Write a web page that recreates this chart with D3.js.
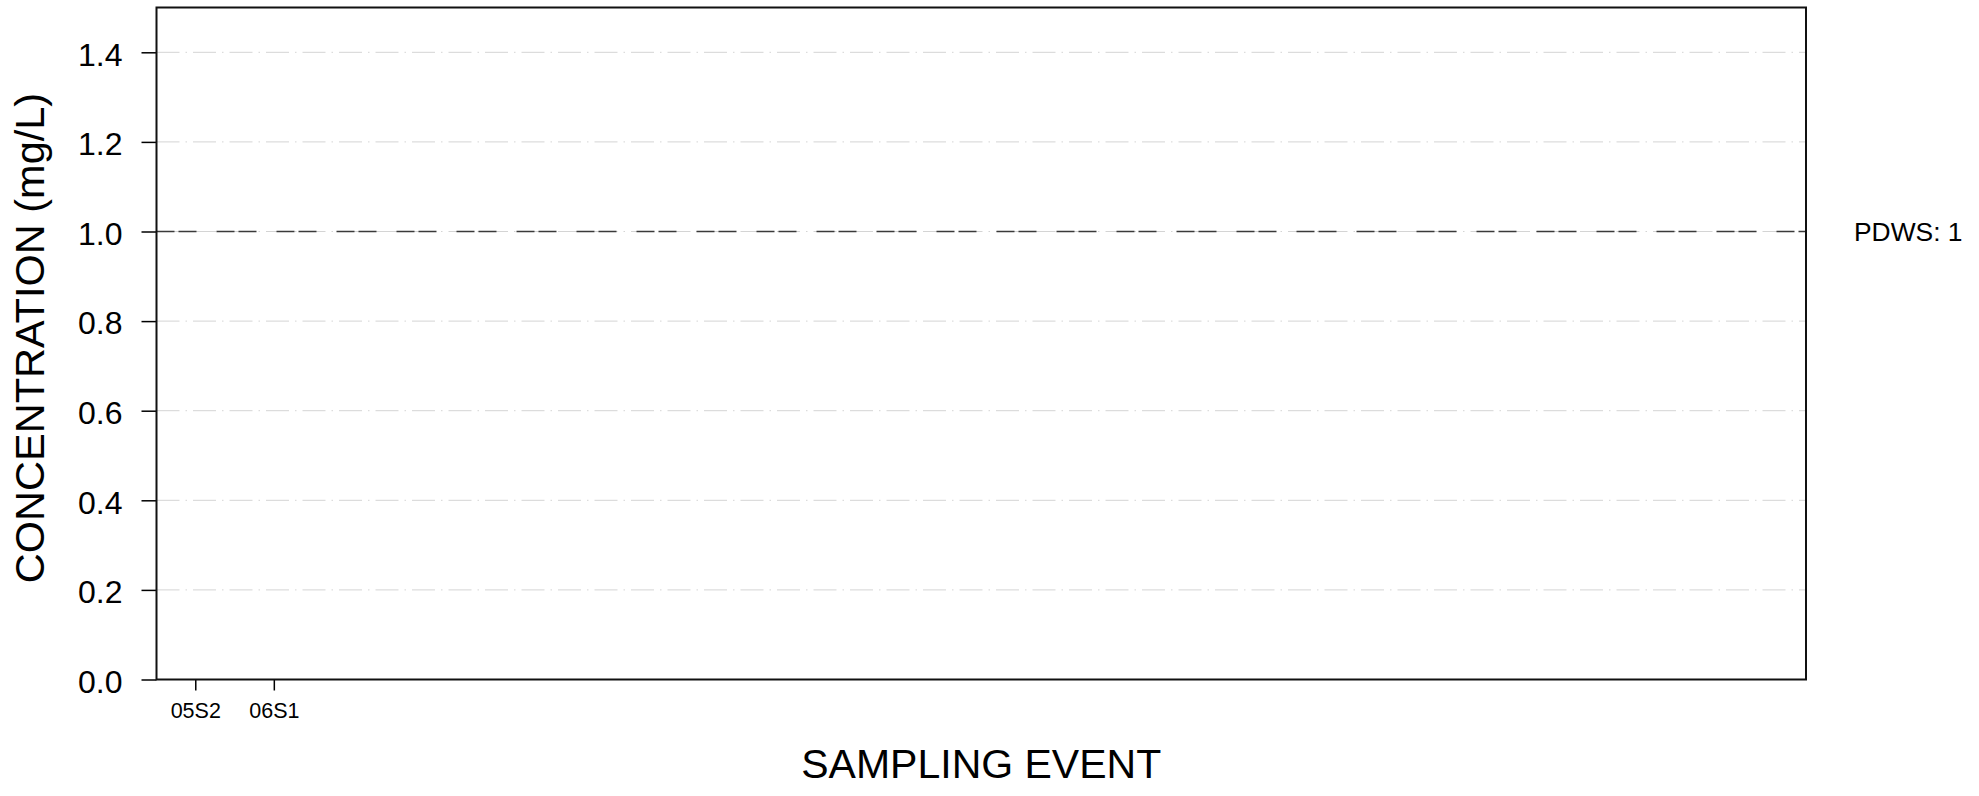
<!DOCTYPE html>
<html>
<head>
<meta charset="utf-8">
<script src="https://cdn.jsdelivr.net/npm/d3@7"></script>
<style>
  body { margin: 0; background: #fff; }
  svg text { font-family: "Liberation Sans", Arial, sans-serif; fill: #000; }
</style>
</head>
<body>
<svg id="chart"></svg>
<script>
// sampling events that got a label on the axis
const categories = ["05S2", "06S1"];
// number of event slots the x axis is split into
const slotCount = 21;
// concentrations measured (none reported for this analyte)
const concentrations = [];
// y axis ticks
const yTicks = [0, 0.2, 0.4, 0.6, 0.8, 1.0, 1.2, 1.4];
const yMax = 1.5;
// regulatory limit
const limitLabel = "PDWS";
const limitValue = 1;

let drawChart = function() {
  const width = 1979,
    height = 796;
  const margin = {top: 7.5, right: 173, bottom: 116.5, left: 156.5};

  const svg = d3.select("svg#chart").attr("width", width).attr("height", height);

  const plotW = width - margin.left - margin.right;
  const plotH = height - margin.top - margin.bottom;

  const g = svg.append("g").attr("transform", translate(margin.left, margin.top));

  // scales
  const x = d3.scaleBand()
    .domain(d3.range(slotCount))
    .range([0, plotW]);
  const y = d3.scaleLinear()
    .domain([0, yMax])
    .range([plotH, 0]);

  // grid lines (light dash-dot)
  g.append("g").attr("class", "grid")
    .selectAll("line")
    .data(yTicks.filter(d => d > 0))
    .enter()
    .append("line")
    .attr("x1", 0)
    .attr("x2", plotW)
    .attr("y1", d => y(d))
    .attr("y2", d => y(d))
    .attr("stroke", "#d4d4d4")
    .attr("stroke-width", 1)
    .attr("stroke-dasharray", "23,6,1.5,6");

  // limit line
  g.append("line")
    .attr("x1", 0)
    .attr("x2", plotW)
    .attr("y1", y(limitValue))
    .attr("y2", y(limitValue))
    .attr("stroke", "#3a3a3a")
    .attr("stroke-width", 1.5)
    .attr("stroke-dasharray", "18,4,18,20");

  svg.append("text")
    .attr("x", 1854)
    .attr("y", margin.top + y(limitValue))
    .attr("dy", "0.36em")
    .attr("font-size", "26.4px")
    .text(limitLabel + ": " + limitValue);

  // data points (nothing to plot)
  g.append("g").selectAll("circle")
    .data(concentrations)
    .enter()
    .append("circle")
    .attr("cx", d => x(categories.indexOf(d.event)) + x.bandwidth() / 2)
    .attr("cy", d => y(d.value))
    .attr("r", 5);

  // y axis
  const yAxis = g.append("g")
    .call(d3.axisLeft(y).tickValues(yTicks).tickFormat(d3.format(".1f")).tickSize(15).tickPadding(19));
  yAxis.select(".domain").remove();
  yAxis.selectAll("line").attr("stroke", "#000").attr("stroke-width", 1.5);
  yAxis.selectAll("text")
    .attr("font-size", "32px")
    .attr("font-family", null)
    .attr("dy", "0.4em");

  // x axis, only labelled events get a tick
  const xAxis = g.append("g")
    .attr("transform", translate(0, plotH))
    .call(d3.axisBottom(x)
      .tickValues(d3.range(categories.length))
      .tickFormat(i => categories[i])
      .tickSize(11)
      .tickPadding(12));
  xAxis.select(".domain").remove();
  xAxis.selectAll("line").attr("stroke", "#000").attr("stroke-width", 1.5);
  xAxis.selectAll("text")
    .attr("font-size", "21.5px")
    .attr("font-family", null)
    .attr("dy", "0.71em");

  // frame
  g.append("rect")
    .attr("x", 0)
    .attr("y", 0)
    .attr("width", plotW)
    .attr("height", plotH)
    .attr("fill", "none")
    .attr("stroke", "#111")
    .attr("stroke-width", 2);

  // axis titles
  svg.append("text")
    .attr("text-anchor", "middle")
    .attr("font-size", "41.5px")
    .attr("transform", translate(44, 338) + " rotate(-90)")
    .text("CONCENTRATION (mg/L)");

  svg.append("text")
    .attr("text-anchor", "middle")
    .attr("font-size", "41px")
    .attr("x", margin.left + plotW / 2)
    .attr("y", 778)
    .text("SAMPLING EVENT");
};

function translate(x, y) {
  return "translate(" + String(x) + "," + String(y) + ")";
}

drawChart();
</script>
</body>
</html>
